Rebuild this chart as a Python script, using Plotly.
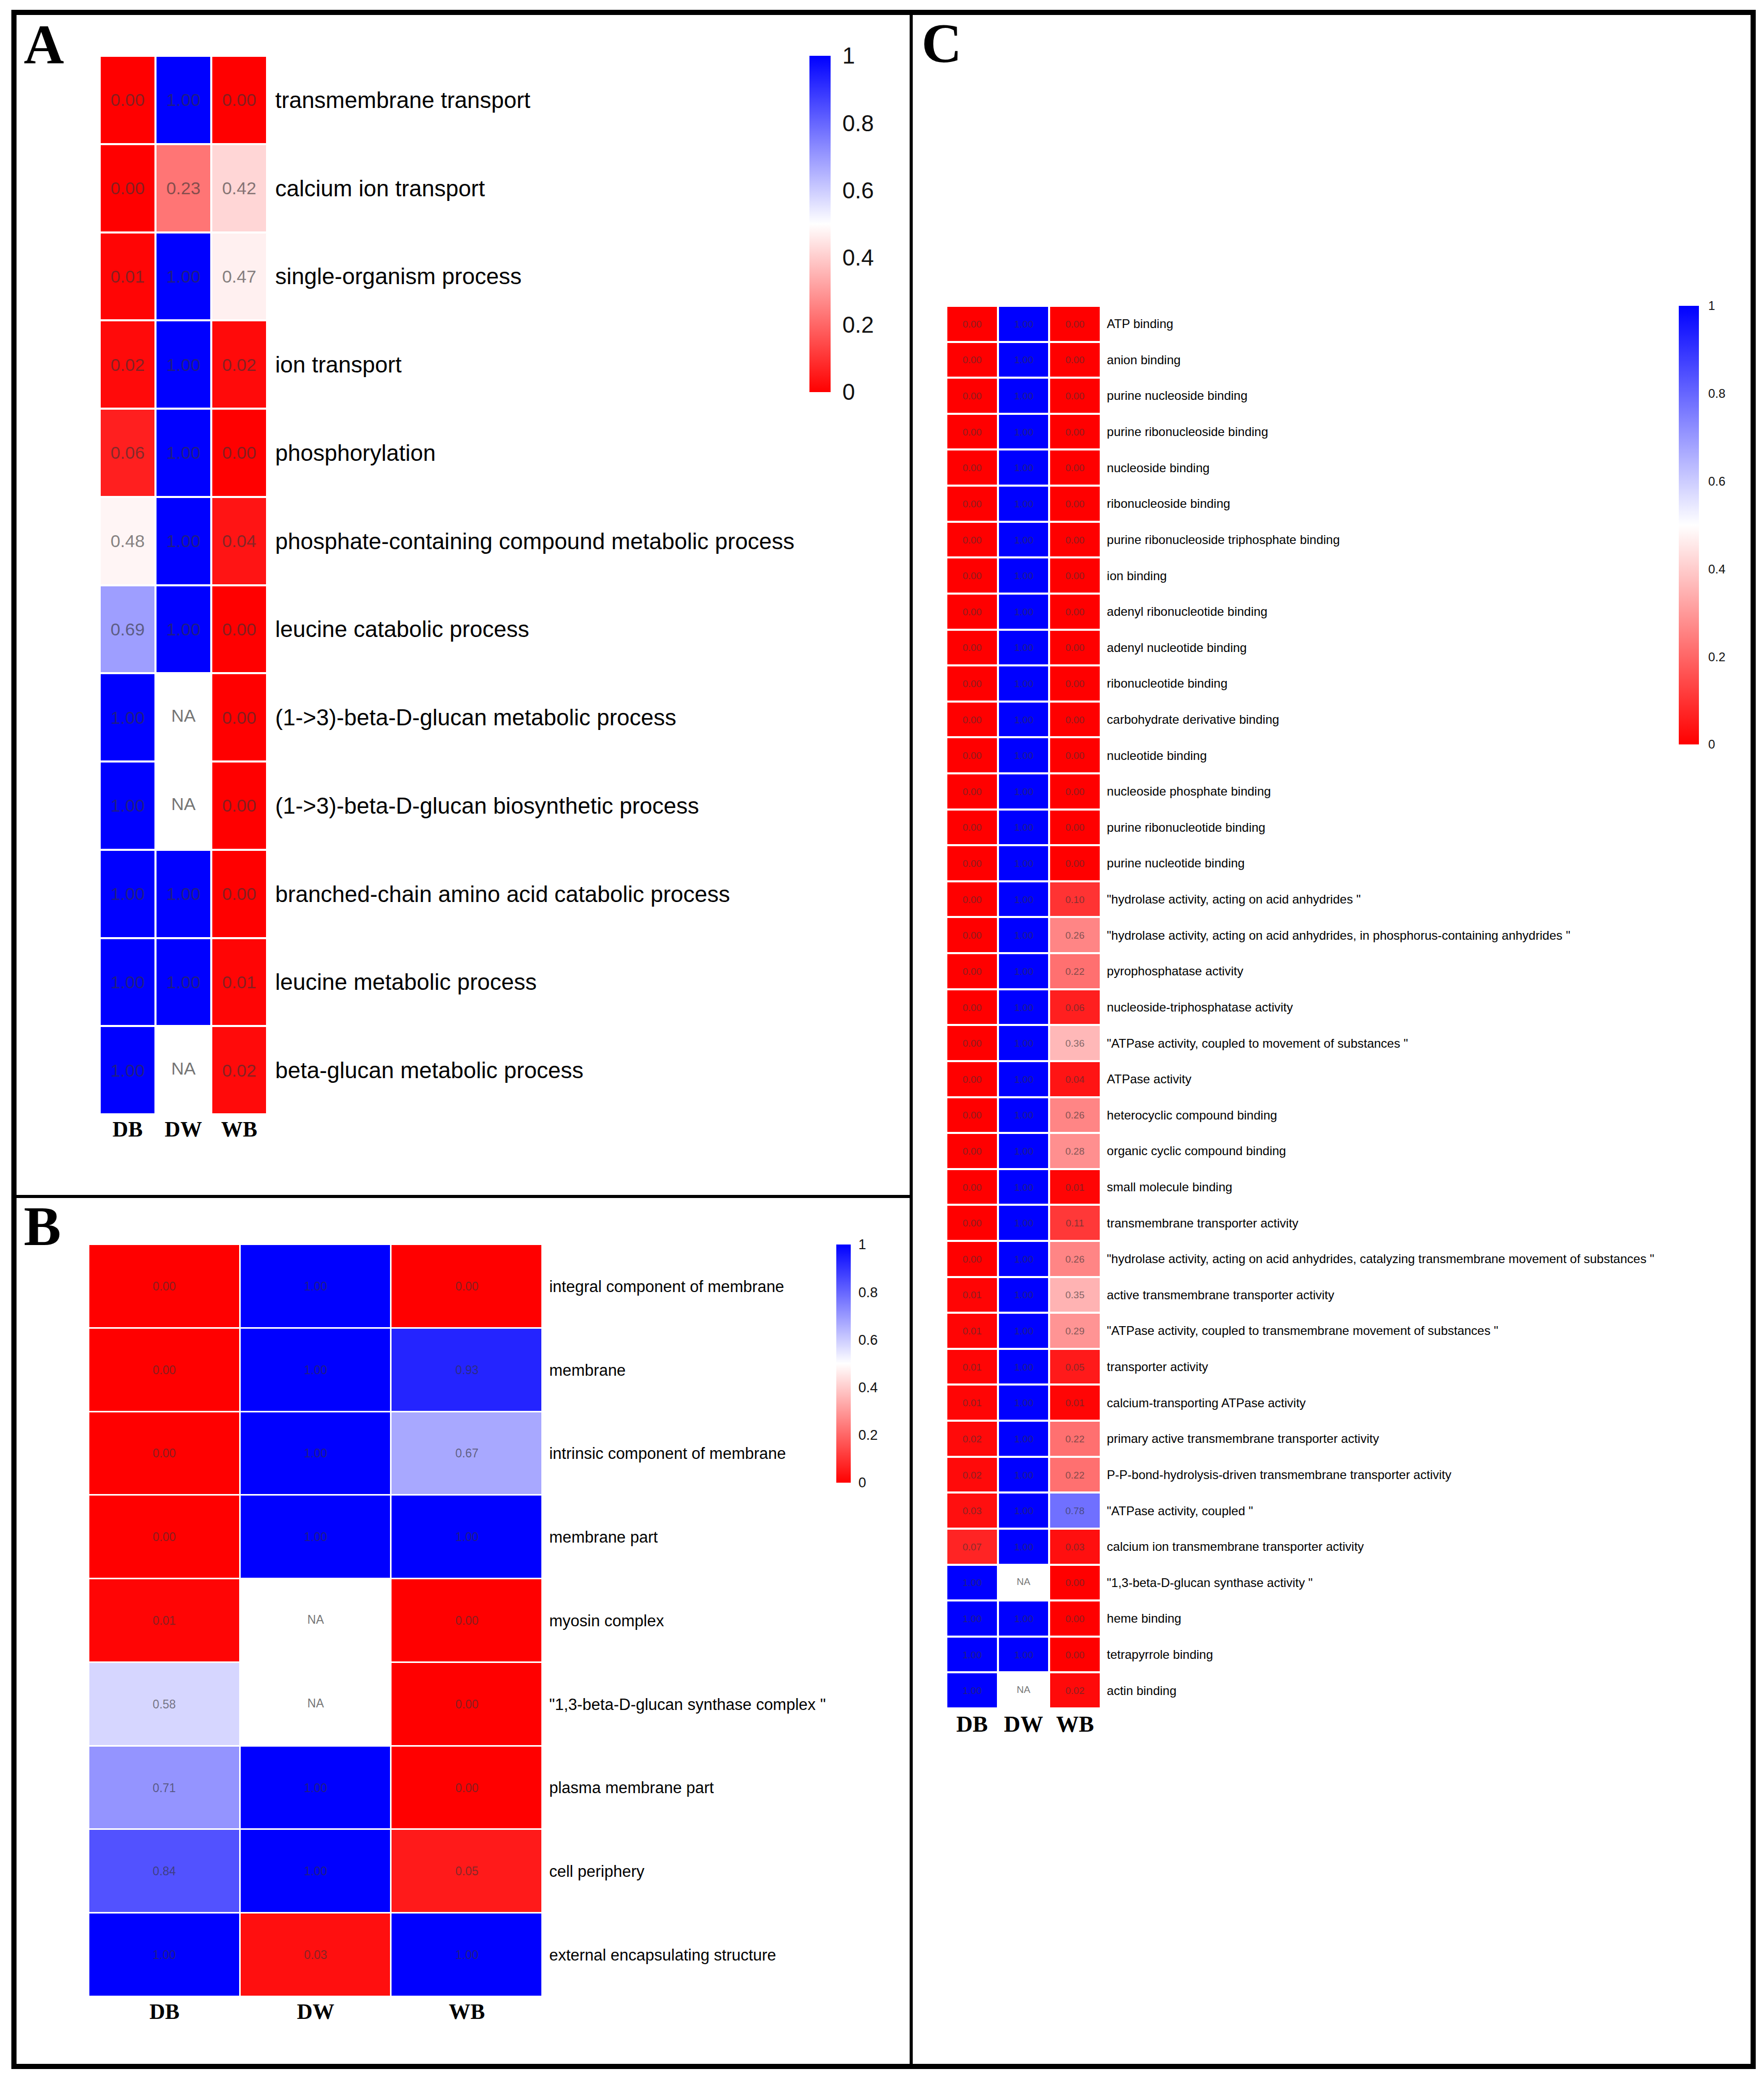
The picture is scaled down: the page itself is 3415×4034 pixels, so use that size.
import plotly.graph_objects as go

W, H = 3415, 4034
OFF = 8  # the page body adds an 8px margin; compensate so marks land in place
cols = ["DB", "DW", "WB"]

# ---------------- Panel A (biological process) ----------------
a_terms = [
    "transmembrane transport",
    "calcium ion transport",
    "single-organism process",
    "ion transport",
    "phosphorylation",
    "phosphate-containing compound metabolic process",
    "leucine catabolic process",
    "(1->3)-beta-D-glucan metabolic process",
    "(1->3)-beta-D-glucan biosynthetic process",
    "branched-chain amino acid catabolic process",
    "leucine metabolic process",
    "beta-glucan metabolic process",
]
a_DB = [0.00, 0.00, 0.01, 0.02, 0.06, 0.48, 0.69, 1.00, 1.00, 1.00, 1.00, 1.00]
a_DW = [1.00, 0.23, 1.00, 1.00, 1.00, 1.00, 1.00, None, None, 1.00, 1.00, None]
a_WB = [0.00, 0.42, 0.47, 0.02, 0.00, 0.04, 0.00, 0.00, 0.00, 0.00, 0.01, 0.02]

# ---------------- Panel B (cellular component) ----------------
b_terms = [
    "integral component of membrane",
    "membrane",
    "intrinsic component of membrane",
    "membrane part",
    "myosin complex",
    "\"1,3-beta-D-glucan synthase complex \"",
    "plasma membrane part",
    "cell periphery",
    "external encapsulating structure",
]
b_DB = [0.00, 0.00, 0.00, 0.00, 0.01, 0.58, 0.71, 0.84, 1.00]
b_DW = [1.00, 1.00, 1.00, 1.00, None, None, 1.00, 1.00, 0.03]
b_WB = [0.00, 0.93, 0.67, 1.00, 0.00, 0.00, 0.00, 0.05, 1.00]

# ---------------- Panel C (molecular function) ----------------
c_terms = [
    "ATP binding",
    "anion binding",
    "purine nucleoside binding",
    "purine ribonucleoside binding",
    "nucleoside binding",
    "ribonucleoside binding",
    "purine ribonucleoside triphosphate binding",
    "ion binding",
    "adenyl ribonucleotide binding",
    "adenyl nucleotide binding",
    "ribonucleotide binding",
    "carbohydrate derivative binding",
    "nucleotide binding",
    "nucleoside phosphate binding",
    "purine ribonucleotide binding",
    "purine nucleotide binding",
    "\"hydrolase activity, acting on acid anhydrides \"",
    "\"hydrolase activity, acting on acid anhydrides, in phosphorus-containing anhydrides \"",
    "pyrophosphatase activity",
    "nucleoside-triphosphatase activity",
    "\"ATPase activity, coupled to movement of substances \"",
    "ATPase activity",
    "heterocyclic compound binding",
    "organic cyclic compound binding",
    "small molecule binding",
    "transmembrane transporter activity",
    "\"hydrolase activity, acting on acid anhydrides, catalyzing transmembrane movement of substances \"",
    "active transmembrane transporter activity",
    "\"ATPase activity, coupled to transmembrane movement of substances \"",
    "transporter activity",
    "calcium-transporting ATPase activity",
    "primary active transmembrane transporter activity",
    "P-P-bond-hydrolysis-driven transmembrane transporter activity",
    "\"ATPase activity, coupled \"",
    "calcium ion transmembrane transporter activity",
    "\"1,3-beta-D-glucan synthase activity \"",
    "heme binding",
    "tetrapyrrole binding",
    "actin binding",
]
c_DB = [0.00] * 27 + [0.01, 0.01, 0.01, 0.01, 0.02, 0.02, 0.03, 0.07, 1.00, 1.00, 1.00, 1.00]
c_DW = [1.00] * 35 + [None, 1.00, 1.00, None]
c_WB = [0.00, 0.00, 0.00, 0.00, 0.00, 0.00, 0.00, 0.00, 0.00, 0.00,
        0.00, 0.00, 0.00, 0.00, 0.00, 0.00, 0.10, 0.26, 0.22, 0.06,
        0.36, 0.04, 0.26, 0.28, 0.01, 0.11, 0.26, 0.35, 0.29, 0.05,
        0.01, 0.22, 0.22, 0.78, 0.03, 0.00, 0.00, 0.00, 0.02]

tick_vals = [0, 0.2, 0.4, 0.6, 0.8, 1]
tick_text = ["0", "0.2", "0.4", "0.6", "0.8", "1"]

colorscale = [[0.0, "#FF0000"], [0.5, "#FFFFFF"], [1.0, "#0000FF"]]
CELL_TXT = "rgba(50,50,50,0.62)"
SANS = "Liberation Sans, Arial, sans-serif"
SERIF = "Liberation Serif, Times New Roman, serif"


def px_x(p):
    return (p - OFF) / W


def px_y(p):
    return 1 - (p - OFF) / H


fig = go.Figure()

panels = [
    dict(terms=a_terms, db=a_DB, dw=a_DW, wb=a_WB, ax="", ca="coloraxis",
         cell_size=34, gap=4),
    dict(terms=b_terms, db=b_DB, dw=b_DW, wb=b_WB, ax="2", ca="coloraxis2",
         cell_size=23, gap=3),
    dict(terms=c_terms, db=c_DB, dw=c_DW, wb=c_WB, ax="3", ca="coloraxis3",
         cell_size=19, gap=4),
]

for p in panels:
    z, txt = [], []
    na_x, na_y = [], []
    for i, term in enumerate(p["terms"]):
        row = [p["db"][i], p["dw"][i], p["wb"][i]]
        z.append(row)
        trow = []
        for j, v in enumerate(row):
            if v is None:
                trow.append("")
                na_x.append(cols[j])
                na_y.append(term)
            else:
                trow.append(f"{v:.2f}")
        txt.append(trow)
    fig.add_trace(go.Heatmap(
        z=z, x=cols, y=p["terms"], text=txt, texttemplate="%{text}",
        textfont=dict(size=p["cell_size"], color=CELL_TXT, family=SANS),
        coloraxis=p["ca"], xgap=p["gap"], ygap=p["gap"],
        xaxis="x" + p["ax"], yaxis="y" + p["ax"], hoverongaps=False,
    ))
    fig.add_trace(go.Scatter(
        x=na_x, y=na_y, mode="text", text=["NA"] * len(na_x),
        textfont=dict(size=p["cell_size"], color="rgba(70,70,70,0.75)", family=SANS),
        xaxis="x" + p["ax"], yaxis="y" + p["ax"], showlegend=False, hoverinfo="skip",
    ))


def cbar(x_left, thick, top, bottom, fsize):
    return dict(
        x=px_x(x_left), xanchor="left", xpad=0, ypad=0,
        y=px_y(bottom), yanchor="bottom", len=(bottom - top) / H, lenmode="fraction",
        thickness=thick, thicknessmode="pixels", outlinewidth=0,
        tickvals=tick_vals, ticktext=tick_text, ticks="outside",
        ticklen=max(6, thick * 0.35), tickcolor="rgba(0,0,0,0)",
        tickfont=dict(size=fsize, color="#111111", family=SANS),
    )


fig.update_layout(
    width=W, height=H, margin=dict(l=0, r=0, t=0, b=0),
    paper_bgcolor="white", plot_bgcolor="white", showlegend=False,
    coloraxis=dict(colorscale=colorscale, cmin=0, cmax=1,
                   colorbar=cbar(1567, 41, 108, 759, 44)),
    coloraxis2=dict(colorscale=colorscale, cmin=0, cmax=1,
                    colorbar=cbar(1619, 28, 2409, 2870, 27)),
    coloraxis3=dict(colorscale=colorscale, cmin=0, cmax=1,
                    colorbar=cbar(3250, 39, 592, 1441, 24)),
)

axis_specs = [
    ("", a_terms, (193, 517), (108, 2157), 44, 42),
    ("2", b_terms, (172, 1050), (2409, 3865), 31, 42),
    ("3", c_terms, (1832, 2131), (592, 3307), 24, 44),
]
for ax, terms, (x0, x1), (y0, y1), yfs, xfs in axis_specs:
    xkey = "xaxis" + ax
    ykey = "yaxis" + ax
    fig.update_layout(**{
        xkey: dict(domain=[px_x(x0), px_x(x1)], anchor="y" + ax, type="category",
                   range=[-0.5, len(cols) - 0.5], autorange=False,
                   side="bottom", showgrid=False, zeroline=False, showline=False,
                   ticks="", fixedrange=True,
                   tickfont=dict(size=xfs, color="black", family=SERIF, weight="bold")),
        ykey: dict(domain=[px_y(y1), px_y(y0)], anchor="x" + ax, type="category",
                   range=[len(terms) - 0.5, -0.5], autorange=False,
                   side="right", showgrid=False, zeroline=False,
                   showline=False, ticks="outside", ticklen=6, tickcolor="rgba(0,0,0,0)",
                   fixedrange=True,
                   tickfont=dict(size=yfs, color="black", family=SANS)),
    })

# panel frames
frame = dict(type="line", xref="paper", yref="paper", line=dict(color="black"))
fig.add_shape(type="rect", xref="paper", yref="paper",
              x0=px_x(27), x1=px_x(3394), y0=px_y(4000), y1=px_y(24),
              line=dict(color="black", width=10))
fig.add_shape(**frame, x0=px_x(1764), x1=px_x(1764), y0=px_y(4000), y1=px_y(24),
              line_width=6)
fig.add_shape(**frame, x0=px_x(27), x1=px_x(1764), y0=px_y(2316), y1=px_y(2316),
              line_width=6)

for letter, lx, ly in [("A", 44, 25), ("B", 44, 2312), ("C", 1782, 22)]:
    fig.add_annotation(text=f"<b>{letter}</b>", x=px_x(lx), y=px_y(ly),
                       xref="paper", yref="paper", xanchor="left", yanchor="top",
                       showarrow=False,
                       font=dict(size=108, color="black", family=SERIF))

fig.write_html("out.html")
